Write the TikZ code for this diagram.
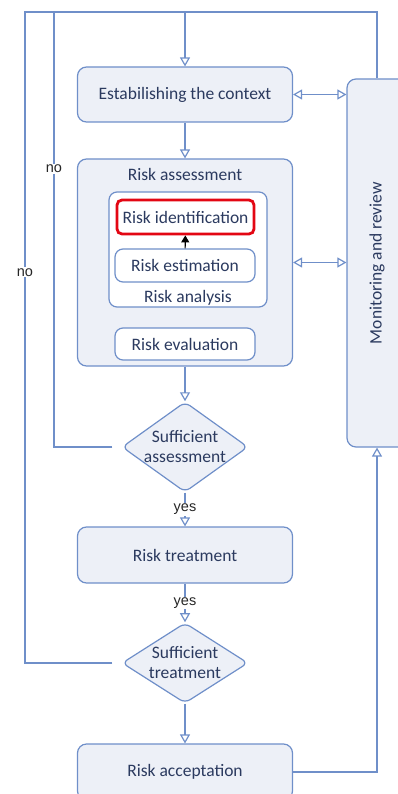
\documentclass[tikz,border=0pt]{standalone}
\usepackage{fontspec}
\setmainfont{Carlito}
\newfontfamily\answerfont{Liberation Sans}
\usetikzlibrary{arrows.meta,shapes.geometric}
\definecolor{boxline}{HTML}{6F8FC9}
\definecolor{boxfill}{HTML}{EDF0F7}
\definecolor{boxtext}{HTML}{2B3A5F}
\definecolor{alarm}{HTML}{E30613}
\tikzset{
  x=1pt, y=-1pt,
  every node/.style={font=\fontsize{17.5}{20}\selectfont, text=boxtext},
  stage/.style={draw=boxline, fill=boxfill, line width=1.2pt, rounded corners=9pt,
    minimum width=215pt, minimum height=55pt, inner sep=0pt},
  substage/.style={draw=boxline, fill=white, line width=1.2pt, rounded corners=8pt,
    minimum width=140pt, minimum height=33pt, inner sep=0pt},
  alertstage/.style={substage, draw=alarm, line width=2.8pt, rounded corners=5pt,
    minimum width=137pt, minimum height=34pt},
  decision/.style={shape=diamond, draw=boxline, fill=boxfill, line width=1.2pt,
    rounded corners=6pt, minimum width=126pt, minimum height=78pt, inner sep=-6pt,
    align=center},
  answer/.style={font=\answerfont\fontsize{14.5}{16}\selectfont, text=black!85,
    fill=white, inner sep=1pt},
  flow/.style={draw=boxline, line width=1.2pt},
  arrow/.style={flow, -{Triangle[open, length=9pt, width=10pt]}},
  twoway/.style={flow, {Triangle[open, length=9pt, width=10pt]}-{Triangle[open, length=9pt, width=10pt]}}
}

\begin{document}
\begin{tikzpicture}
  \useasboundingbox (0,0) rectangle (398,794);
  \clip (0,0) rectangle (398,794);

  % main column
  \node (ctx) [stage] at (185,94.5) {Estabilishing the context};
  \node (assess) [stage, minimum height=207pt, below of=ctx, node distance=168pt,
    label={[anchor=center, yshift=-16pt]north:Risk assessment}] {};
  \node (analysis) [substage, fill=white, minimum width=158pt, minimum height=115pt,
    label={[anchor=center, yshift=10pt]south:Risk analysis}] at (188,249.5) {};
  \node (ident) [alertstage] at (185.5,217) {Risk identification};
  \node (estim) [substage] at (185,265.5) {Risk estimation};
  \node (eval)  [substage, minimum height=32pt] at (185,344) {Risk evaluation};
  \node (dia1)  [decision, below of=assess, node distance=184.5pt] {Sufficient\\assessment};
  \node (treat) [stage, minimum height=56pt, below of=dia1, node distance=108pt] {Risk treatment};
  \node (dia2)  [decision, minimum height=79pt, below of=treat, node distance=108pt] {Sufficient\\treatment};
  \node (accept) [stage, minimum height=56pt, below of=dia2, node distance=109pt] {Risk acceptation};

  % side box
  \node (mon) [stage, minimum width=60pt, minimum height=368pt,
    label={[rotate=90]center:Monitoring and review}] at (377,263) {};

  % loop corners
  \coordinate (top)    at (185,12);
  \coordinate (leftA)  at (54,12);
  \coordinate (leftB)  at (25,12);
  \coordinate (rightC) at (377,12);

  \draw[flow] (mon.north) -- (rightC) -- (top);
  \draw[flow, shorten <=9pt] (dia1.west) -| node[answer, pos=0.82] {no} (leftA) -- (top);
  \draw[flow, shorten <=9pt] (dia2.west) -| node[answer, pos=0.8] {no} (leftB) -- (top);
  \draw[arrow] (top) -- (ctx);
  \draw[twoway] (ctx.east) -- (ctx.east -| mon.west);
  \draw[arrow] (ctx) -- (assess);
  \draw[twoway] (assess.east) -- (assess.east -| mon.west);
  \draw[black, line width=1.1pt, -{Triangle[length=7pt, width=8pt]}] (estim) -- (ident);
  \draw[arrow] (assess) -- (dia1);
  \draw[arrow] (dia1) -- node[answer] {yes} (treat);
  \draw[arrow] (treat) -- node[answer] {yes} (dia2);
  \draw[arrow] (dia2) -- (accept);
  \draw[arrow] (accept.east) -| (mon.south);
\end{tikzpicture}
\end{document}
